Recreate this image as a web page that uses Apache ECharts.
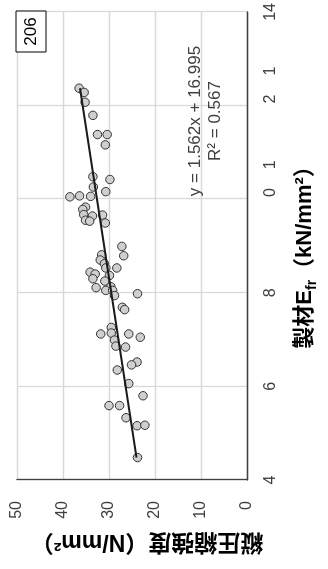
<!DOCTYPE html>
<html><head><meta charset="utf-8">
<script src="https://cdn.jsdelivr.net/npm/echarts@6/dist/echarts.min.js"></script>
<style>
html,body{margin:0;padding:0;background:#fff;overflow:hidden;}
#wrap{position:relative;width:328px;height:569px;overflow:hidden;background:#fff;}
#chart{position:absolute;left:0;top:0;width:569px;height:328px;transform-origin:0 0;transform:translate(0,569px) rotate(-90deg);}
</style></head><body>
<div id="wrap"><div id="chart"></div></div>
<script>
// 製材E_fr (kN/mm²)
const eValues = [12.37,12.28,12.07,11.79,11.38,11.38,11.16,10.48,10.42,10.26,10.16,10.05,10.07,10.06,
  9.83,9.78,9.67,9.64,9.55,9.53,9.66,9.49,8.99,8.79,8.81,8.70,8.62,8.53,8.53,8.44,8.40,8.30,8.37,8.25,
  8.11,8.13,8.05,8.05,7.94,7.98,7.69,7.64,7.26,7.12,7.14,7.12,7.05,6.99,6.86,6.84,6.52,6.46,6.35,6.06,
  5.80,5.59,5.59,5.33,5.16,5.17,4.48];
// 縦圧縮強度 (N/mm²)
const strengthValues = [36.5,35.4,35.2,33.5,32.5,30.4,30.8,33.5,29.8,33.4,30.7,38.5,36.4,34.0,
  35.1,35.7,35.5,33.6,35.1,34.2,31.4,30.8,27.2,26.8,31.6,31.9,31.0,28.3,30.7,34.1,33.0,33.5,29.9,30.9,
  32.8,29.6,30.7,29.2,28.8,23.8,27.1,26.6,29.5,31.8,29.5,25.7,23.2,28.8,28.5,26.4,23.9,25.1,28.2,25.7,
  22.6,30.0,27.7,26.3,23.9,22.2,23.8];
const trendE = [4.48, 12.37];
const trendStrength = [24.0, 36.3];
const eTicks = [4, 6, 8, 10, 12, 14];
const eTickLabels = ['4', '6', '8', '10', '12', '14'];
const strengthTicks = [0, 10, 20, 30, 40, 50];
const strengthTickLabels = ['0', '10', '20', '30', '40', '50'];
const sampleId = '206';
const equationText = 'y = 1.562x + 16.995';
const r2Text = 'R² = 0.567';
const xTitle = '{m|製材E}{sub|fr}{m|（kN/mm²）}';
const yTitle = '縦圧縮強度（N/mm²）';

const NUM_FONT = "'Liberation Sans', 'Noto Sans CJK JP', sans-serif";
const TITLE_FONT = "'Liberation Sans', 'Noto Sans CJK JP', sans-serif";

const scatterData = eValues.map((e, i) => [e, strengthValues[i]]);
const trendData = trendE.map((e, i) => [e, trendStrength[i]]);

const chart = echarts.init(document.getElementById('chart'), null, {width: 569, height: 328, renderer: 'canvas'});
chart.setOption({
  animation: false,
  backgroundColor: '#fff',
  grid: {left: 89, right: 10, top: 17, bottom: 81, containLabel: false},
  xAxis: {
    type: 'value', min: 4, max: 14, interval: 2,
    axisLine: {show: true, onZero: false, lineStyle: {color: '#404040', width: 1.3}},
    axisTick: {show: false},
    splitLine: {show: true, lineStyle: {color: '#d9d9d9', width: 1.3}},
    axisLabel: {
      margin: 16, fontSize: 16, color: '#404040', fontFamily: NUM_FONT,
      formatter: function (v) {
        const s = eTickLabels[eTicks.indexOf(v)] || String(v);
        if (s === '10' || s === '12') {
          return '{p| }{d|' + s[1] + '}{g| }{d|' + s[0] + '}';
        }
        return s;
      },
      rich: {
        p: {width: 41, fontSize: 16, fontFamily: NUM_FONT},
        g: {width: 19, fontSize: 16, fontFamily: NUM_FONT},
        d: {fontSize: 16, color: '#404040', fontFamily: NUM_FONT}
      }
    },
    name: xTitle, nameLocation: 'middle', nameGap: 47,
    nameTextStyle: {
      padding: [0, 12, 0, 0],
      rich: {
        m: {fontSize: 22, fontWeight: 'bold', color: '#000', fontFamily: TITLE_FONT, lineHeight: 26, verticalAlign: 'top'},
        sub: {fontSize: 14, fontWeight: 'bold', color: '#000', fontFamily: TITLE_FONT, lineHeight: 14, verticalAlign: 'top', padding: [11, 0, 0, 0]}
      }
    }
  },
  yAxis: {
    type: 'value', min: 0, max: 50, interval: 10,
    axisLine: {show: true, lineStyle: {color: '#404040', width: 1.3}},
    axisTick: {show: false},
    splitLine: {show: true, lineStyle: {color: '#d9d9d9', width: 1.3}},
    axisLabel: {
      margin: 21, fontSize: 16, color: '#404040', fontFamily: NUM_FONT,
      formatter: function (v) { return strengthTickLabels[strengthTicks.indexOf(v)] || String(v); }
    },
    name: yTitle, nameLocation: 'middle', nameRotate: 90, nameGap: 50,
    nameTextStyle: {fontSize: 23, fontWeight: 'bold', color: '#000', fontFamily: TITLE_FONT, padding: [0, 30, 0, 0]}
  },
  series: [
    {
      type: 'scatter', data: scatterData, symbol: 'circle', symbolSize: 8.5, z: 2,
      itemStyle: {color: '#cfcfcf', borderColor: '#333', borderWidth: 1, opacity: 1}
    },
    {
      type: 'line', data: trendData, showSymbol: false, symbol: 'none', z: 3,
      lineStyle: {color: '#1a1a1a', width: 2}
    }
  ],
  graphic: [
    {type: 'text', x: 448, y: 195, z: 10,
      style: {text: equationText, font: "17px 'Liberation Sans', sans-serif", fill: '#404040',
        align: 'center', verticalAlign: 'middle', textAlign: 'center', textVerticalAlign: 'middle'}},
    {type: 'text', x: 448, y: 215, z: 10,
      style: {text: r2Text, font: "17px 'Liberation Sans', sans-serif", fill: '#404040',
        align: 'center', verticalAlign: 'middle', textAlign: 'center', textVerticalAlign: 'middle'}},
    {type: 'rect', z: 10, shape: {x: 517, y: 16, width: 41, height: 30},
      style: {fill: '#fff', stroke: '#000', lineWidth: 1}},
    {type: 'text', x: 537.5, y: 31, z: 11,
      style: {text: sampleId, font: "17px 'Liberation Sans', sans-serif", fill: '#000',
        align: 'center', verticalAlign: 'middle', textAlign: 'center', textVerticalAlign: 'middle'}}
  ]
});
</script>
</body></html>
